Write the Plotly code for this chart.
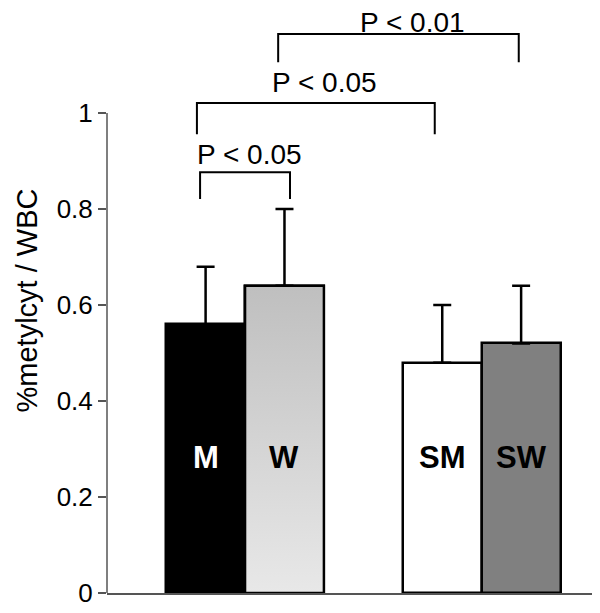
import plotly.graph_objects as go

categories = ["M", "W", "SM", "SW"]
means = [0.56, 0.64, 0.48, 0.52]
errors = [0.12, 0.16, 0.12, 0.12]
fills = ["#000000", "#c0c0c0", "#ffffff", "#808080"]
label_colors = ["#ffffff", "#000000", "#000000", "#000000"]
group_of = [0, 0, 1, 1]
member_of = [0, 1, 0, 1]
tick_vals = [0, 0.2, 0.4, 0.6, 0.8, 1.0]
tick_text = ["0", "0.2", "0.4", "0.6", "0.8", "1"]
# significance comparisons between bars
cmp_left = [0, 0, 1]
cmp_right = [1, 2, 3]
cmp_text = ["P < 0.05", "P < 0.05", "P < 0.01"]
cmp_top = [0.877, 1.021, 1.165]
cmp_leg_bottom = [0.821, 0.956, 1.106]
cmp_text_y = [0.894, 1.044, 1.170]
label_y = 0.283

# style: bracket leg offsets from bar centres, label offsets
leg_off_left = [-0.07, -0.11, -0.08]
leg_off_right = [0.07, -0.095, -0.03]
text_off = [0.06, 0.11, 0.18]

FONT = "Liberation Sans, Arial, sans-serif"
pos = [g * 3 + m for g, m in zip(group_of, member_of)]

fig = go.Figure()
fig.add_trace(go.Bar(
    x=pos, y=means, width=1.0,
    marker=dict(color=fills, line=dict(color="#000000", width=2.5)),
    error_y=dict(type="data", symmetric=False, array=errors,
                 arrayminus=[0] * len(errors), color="#000000",
                 thickness=2.5, width=9),
    showlegend=False, hoverinfo="skip",
))

# gradient overlay for the W bar
i = categories.index("W")
x0, x1 = pos[i] - 0.5, pos[i] + 0.5
fig.add_trace(go.Scatter(
    x=[x0, x0, x1, x1, x0], y=[0, means[i], means[i], 0, 0],
    mode="lines", fill="toself",
    fillgradient=dict(type="vertical",
                      colorscale=[[0, "#e8e8e8"], [1, "#bfbfbf"]]),
    line=dict(color="#000000", width=2.5),
    showlegend=False, hoverinfo="skip",
))

for c, p, col in zip(categories, pos, label_colors):
    fig.add_annotation(x=p, y=label_y, text="<b>%s</b>" % c, showarrow=False,
                       font=dict(family=FONT, size=31, color=col))

for k in range(len(cmp_text)):
    xa = pos[cmp_left[k]] + leg_off_left[k]
    xb = pos[cmp_right[k]] + leg_off_right[k]
    fig.add_trace(go.Scatter(
        x=[xa, xa, xb, xb],
        y=[cmp_leg_bottom[k], cmp_top[k], cmp_top[k], cmp_leg_bottom[k]],
        mode="lines", line=dict(color="#000000", width=2), showlegend=False,
        hoverinfo="skip", cliponaxis=False,
    ))
    fig.add_annotation(x=(xa + xb) / 2 + text_off[k], y=cmp_text_y[k],
                       yshift=-7, text=cmp_text[k], borderpad=0,
                       showarrow=False, yanchor="bottom",
                       font=dict(family=FONT, size=28, color="#000000"))

# y axis line only up to 1
fig.add_shape(type="line", xref="paper", yref="y", x0=0, x1=0, y0=0, y1=1,
              line=dict(color="#555555", width=1.5))

fig.update_layout(
    width=600, height=613,
    margin=dict(l=99, r=8, t=0, b=28, autoexpand=False),
    plot_bgcolor="#ffffff", paper_bgcolor="#ffffff",
    font=dict(family=FONT, size=26, color="#000000"),
    bargap=0,
)
fig.update_xaxes(range=[-1.25, 5.0], showticklabels=False, showgrid=False,
                 zeroline=False, showline=True, linecolor="#555555",
                 linewidth=1.5, ticks="", automargin=False)
fig.update_yaxes(range=[0, 1.219], tickvals=tick_vals, ticktext=tick_text,
                 ticks="outside", ticklen=8, tickcolor="#555555", tickwidth=1.5,
                 showgrid=False, zeroline=False, showline=False, automargin=False,
                 title=dict(text="%metylcyt / WBC", standoff=10,
                            font=dict(family=FONT, size=29)),
                 tickfont=dict(family=FONT, size=26))

fig.write_html("out.html")
